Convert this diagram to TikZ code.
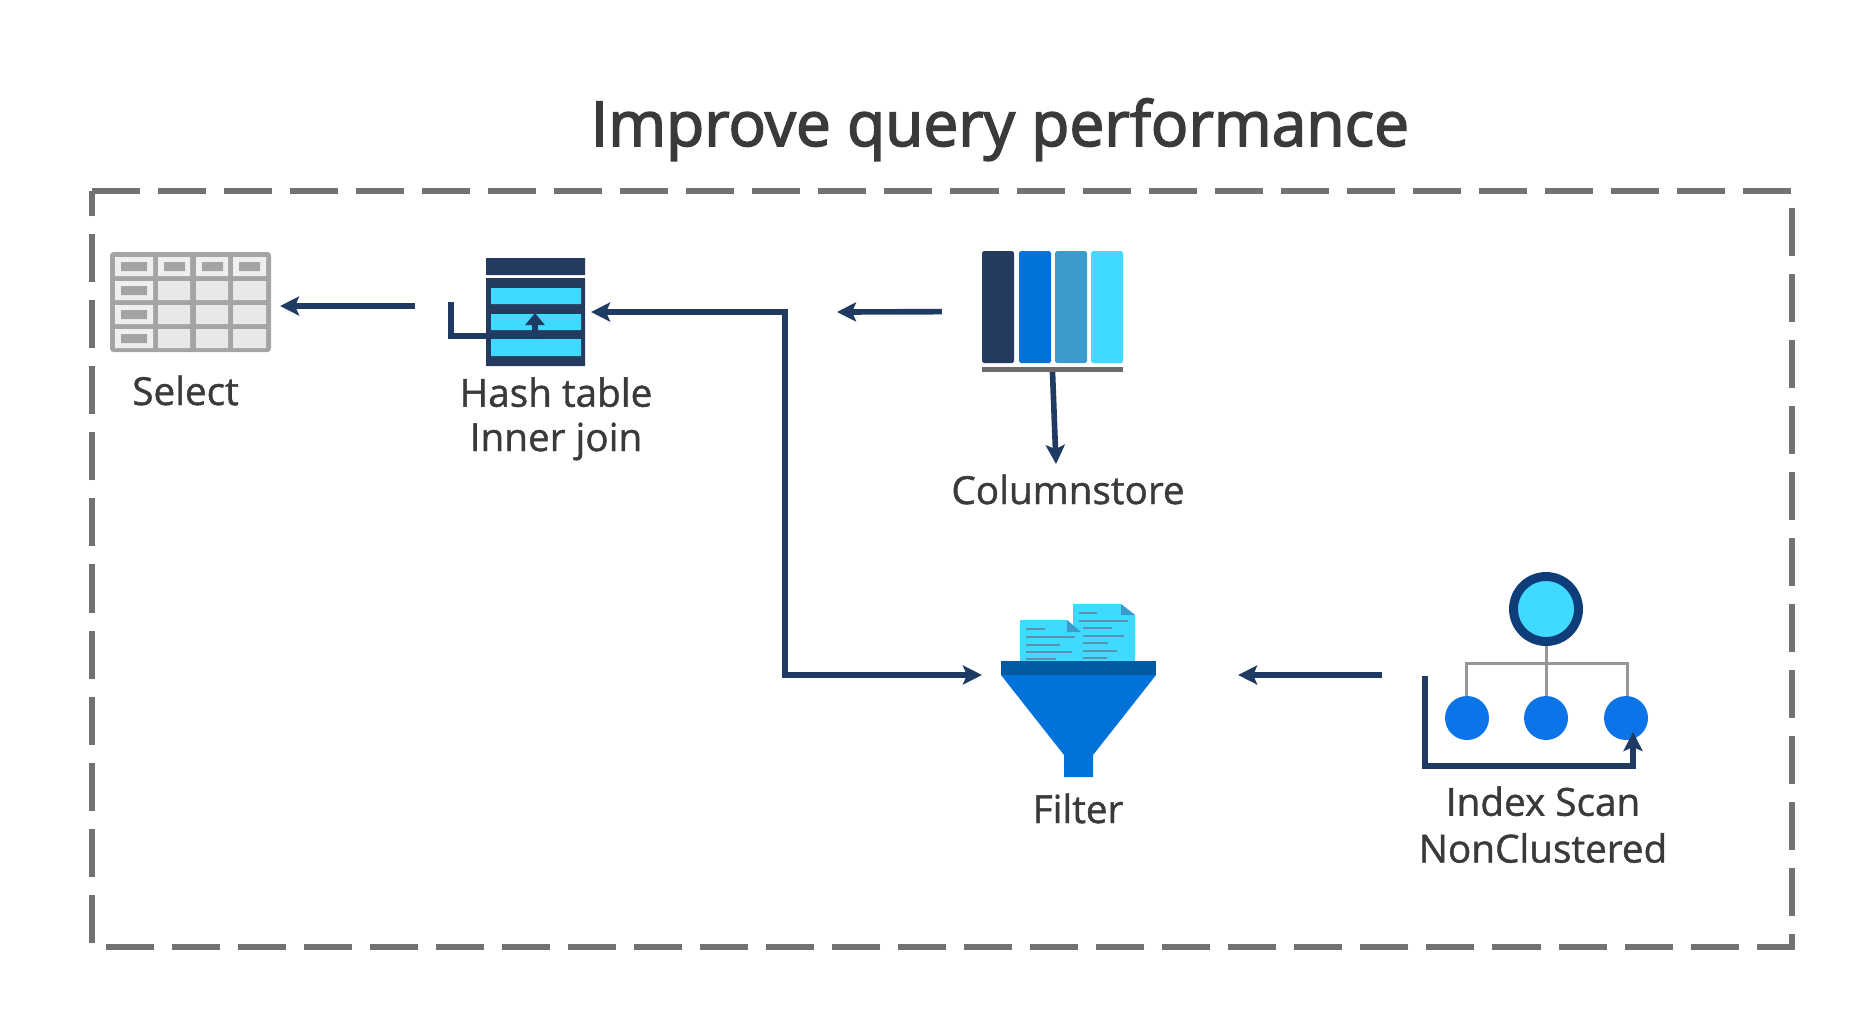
\documentclass[tikz,border=0pt]{standalone}
\usepackage{fontspec}
\setmainfont{Open Sans}
\usetikzlibrary{arrows.meta,positioning}
\definecolor{navy}{HTML}{1F3A63}
\definecolor{inkdark}{HTML}{243A5E}
\definecolor{azure}{HTML}{0072DA}
\definecolor{azuredark}{HTML}{005BA1}
\definecolor{skyblue}{HTML}{40D9FF}
\definecolor{tealblue}{HTML}{3A9BCC}
\definecolor{docline}{HTML}{5A93AE}
\definecolor{dotblue}{HTML}{0A74E8}
\definecolor{ringblue}{HTML}{0F3D7A}
\definecolor{framegrey}{HTML}{727272}
\definecolor{treegrey}{HTML}{969696}
\definecolor{tablegrey}{HTML}{A4A4A4}
\definecolor{cellgrey}{HTML}{E8E8E8}
\definecolor{celltop}{HTML}{EFEFEF}
\definecolor{barbrown}{HTML}{6E6A6A}
\definecolor{textgrey}{HTML}{3A3A3A}
\tikzset{
    flow/.style={line width=1.6pt, navy, -{Stealth[length=0.19cm,width=0.19cm,inset=0.04cm]}},
    iconbox/.style={inner sep=0pt, outer sep=0pt},
    caption/.style={text=textgrey, align=center, anchor=base, inner sep=0pt,
        font=\fontsize{11}{12.6}\selectfont\addfontfeature{FakeBold=1.1}},
}

\begin{document}
\begin{tikzpicture}[x=0.01cm,y=-0.01cm]
    \useasboundingbox (0,0) rectangle (1858,1035);
    %% Title and frame
    \node[text=textgrey, anchor=base, inner sep=0pt, font=\fontsize{17.7}{22}\selectfont\addfontfeature{FakeBold=2.4}] (title) at (1000,146) {Improve query performance};
    \draw[framegrey, line width=0.06cm, dash pattern=on 0.48cm off 0.18cm]
    (92,191) -- (1792,191) -- (1792,947) -- (92,947) -- cycle
    ;
    %% Select table
    \node[iconbox, minimum width=1.61cm, minimum height=1.01cm] (select) at (190.5,302.5) {};
    \fill[tablegrey, rounded corners=1pt] (110,252) rectangle (271,352);
    \fill[celltop]
    (115,257) rectangle (153,276)
    (158,257) rectangle (190,276)
    (196,257) rectangle (228,276)
    (233,257) rectangle (266,276)
    (115,281) rectangle (153,300)
    (115,305) rectangle (153,324)
    (115,329) rectangle (153,348)
    ;
    \fill[cellgrey]
    (158,281) rectangle (190,300)
    (196,281) rectangle (228,300)
    (233,281) rectangle (266,300)
    (158,305) rectangle (190,324)
    (196,305) rectangle (228,324)
    (233,305) rectangle (266,324)
    (158,329) rectangle (190,348)
    (196,329) rectangle (228,348)
    (233,329) rectangle (266,348)
    ;
    \fill[tablegrey]
    (121,262) rectangle (147,271)
    (164,262) rectangle (185,271)
    (202,262) rectangle (223,271)
    (239,262) rectangle (260,271)
    (121,286) rectangle (147,295)
    (121,310) rectangle (147,319)
    (121,334) rectangle (147,343)
    ;
    %% Hash table
    \node[iconbox, minimum width=0.99cm, minimum height=1.08cm] (hash) at (535.5,312) {};
    \coordinate (hashstart) at (451,302);
    \coordinate (hashtip) at (535,313);
    \fill[inkdark]
    (486,258) rectangle (585,275)
    (486,278) rectangle (585,366)
    ;
    \fill[skyblue]
    (491,288) rectangle (581,304)
    (491,314) rectangle (581,330)
    (491,339) rectangle (581,356)
    ;
    \draw[flow, -{Stealth[length=0.12cm,width=0.19cm,inset=0cm]}] (hashstart) -- ++(0,34) -| (hashtip);
    %% Columnstore
    \node[iconbox, minimum width=1.41cm, minimum height=1.21cm] (columns) at (1052.5,311.5) {};
    \fill[inkdark, rounded corners=0.5pt] (982,251) rectangle (1014,363);
    \fill[azure, rounded corners=0.5pt] (1019,251) rectangle (1051,363);
    \fill[tealblue, rounded corners=0.5pt] (1055,251) rectangle (1087,363);
    \fill[skyblue, rounded corners=0.5pt] (1091,251) rectangle (1123,363);
    \fill[barbrown] (982,367) rectangle (1123,372);
    %% Filter
    \node[iconbox, minimum width=1.55cm, minimum height=1.73cm] (filter) at (1078.5,690.5) {};
    \fill[skyblue] (1073,604) -- (1121,604) -- (1135,615) -- (1135,661) -- (1073,661) -- cycle;
    \fill[tealblue] (1121,604) -- (1135,615) -- (1121,615) -- cycle;
    \draw[docline, line width=0.5pt]
    (1079,613) -- (1097,613)
    (1079,621) -- (1128,621)
    (1083,628) -- (1112,628)
    (1083,636) -- (1124,636)
    (1083,643) -- (1108,643)
    (1083,651) -- (1117,651)
    (1083,658) -- (1107,658)
    ;
    \fill[skyblue] (1020,620) -- (1067,620) -- (1081,632) -- (1081,661) -- (1020,661) -- cycle;
    \fill[tealblue] (1067,620) -- (1081,632) -- (1067,632) -- cycle;
    \draw[docline, line width=0.5pt]
    (1026,629) -- (1045,629)
    (1026,637) -- (1075,637)
    (1026,645) -- (1060,645)
    (1026,652) -- (1072,652)
    (1026,659) -- (1056,659)
    ;
    \fill[azure] (1001,675) -- (1156,675) -- (1093,755) -- (1093,777) -- (1064,777) -- (1064,755) -- cycle;
    \fill[azuredark] (1001,661) rectangle (1156,675);
    %% Index scan
    \node[iconbox, minimum width=2.23cm, minimum height=1.94cm] (index) at (1536.5,669) {};
    \coordinate (indexstart) at (1425,676);
    \coordinate (indextip) at (1633,732);
    \draw[treegrey, line width=0.85pt]
    (1546,609) -- (1546,718)
    (1466,718) -- (1466,663) -- (1627,663) -- (1627,718)
    ;
    \draw[ringblue, fill=skyblue, line width=2.55pt] (1546,609) circle (32.5);
    \fill[dotblue]
    (1467,718) circle (22)
    (1546,718) circle (22)
    (1626,718) circle (22)
    ;
    \draw[flow] (indexstart) -- ++(0,90) -| (indextip);
    %% Connectors
    \coordinate (branch) at (785,500);
    \coordinate (columnsend) at (837,312);
    \coordinate (columnsdown) at (1056,464);
    \draw[flow, shorten <=0.71cm, shorten >=0.09cm] ([yshift=0.06cm]hash.west) -- ([yshift=-0.035cm]select.east);
    \draw[flow, shorten >=0.06cm] (branch) |- (hash.east);
    \draw[flow, shorten >=0.19cm] (branch) |- ([yshift=0.155cm]filter.west);
    \draw[flow, shorten <=0.40cm] (columns.west) -- (columnsend);
    \draw[flow] (columns.south) -- (columnsdown);
    \draw[flow, shorten <=0.43cm, shorten >=0.82cm] ([yshift=-0.06cm]index.west) -- ([yshift=0.155cm]filter.east);
    %% Labels
    \node[caption] (selectlabel) at (185.5,405) {Select};
    \node[caption] (hashlabel) at (556,451) {Hash table\\Inner join};
    \node[caption] (columnslabel) at (1068,504) {Columnstore};
    \node[caption] (filterlabel) at (1078,823) {Filter};
    \node[caption] (indexlabel) at (1543,862.5) {Index Scan\\[0.7pt]NonClustered};
\end{tikzpicture}
\end{document}
